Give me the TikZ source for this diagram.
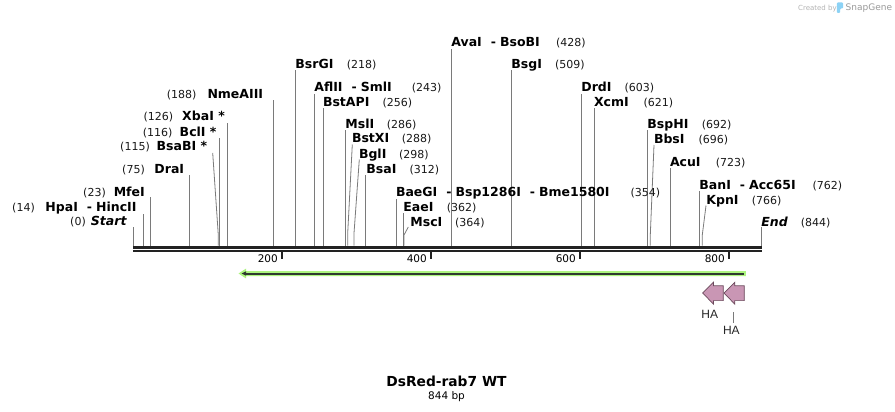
\documentclass[tikz,border=0pt]{standalone}
\usepackage{fontspec}
\setmainfont{DejaVu Sans}
\newfontfamily\hafont{Liberation Sans}
\definecolor{cutgray}{HTML}{7A7A7A}
\definecolor{orfgreen}{HTML}{ADF57F}
\definecolor{orfdark}{HTML}{2F3A2F}
\definecolor{hapink}{HTML}{C996B4}
\definecolor{haedge}{HTML}{6B4A5C}
\definecolor{barblack}{HTML}{222222}
\definecolor{wmgray}{HTML}{B4B4B4}
\definecolor{wmdark}{HTML}{9A9A9A}
\definecolor{snapblue}{HTML}{8CD2F5}
\newcommand\dsh{\hspace{9pt}-\hspace{4pt}}
% right-side label: id, text, x, baseline, number, number x
\newcommand\rlab[6]{%
  \node[lab, anchor=base west] (#1) at (#3,#4) {#2};
  \node[num, anchor=base west] (#1n) at (#6,#4) {#5};}
% left-side label: id, text, right x, baseline, number, number right x
\newcommand\llab[6]{%
  \node[lab, anchor=base east] (#1) at (#3,#4) {#2};
  \node[num, anchor=base east] (#1n) at (#6,#4) {#5};}
% straight cut line: id, x, top
\newcommand\cutv[3]{%
  \coordinate (s#1) at (#2,245.5);
  \coordinate (t#1) at (#2,#3);
  \draw[cut] (s#1) -- (t#1);}
% bent cut line: id, x, bend y, top x, top y
\newcommand\cutb[5]{%
  \coordinate (s#1) at (#2,245.5);
  \coordinate (b#1) at (#2,#3);
  \coordinate (t#1) at (#4,#5);
  \draw[cut] (s#1) -- (b#1) -- (t#1);}
\begin{document}
\begin{tikzpicture}[x=1pt,y=-1pt,
  lab/.style={font=\fontsize{12.5}{14}\selectfont\bfseries, inner sep=0pt},
  num/.style={font=\fontsize{11}{13}\selectfont, inner sep=0pt, text=black!90},
  cut/.style={draw=cutgray, line width=0.8pt},
  tickl/.style={font=\fontsize{10.5}{12}\selectfont, inner sep=0pt, anchor=base east},
  halab/.style={font=\hafont\fontsize{12}{14}\selectfont, inner sep=0pt, anchor=base west, text=black!85},
  haarrow/.style={fill=hapink, draw=haedge, line width=0.7pt, line join=miter}]
\useasboundingbox (0,0) rectangle (895,412);
\fill[white] (0,0) rectangle (895,412);

% watermark
\node[font=\fontsize{7}{8}\selectfont, text=wmgray, inner sep=0pt, anchor=base west] (wm1) at (798,10.5) {Created by};
\fill[snapblue, rounded corners=1pt] (836.8,2.5) -- (843,2.5) -- (843,8.5) -- (840.2,8.5) -- (840.2,13) -- (836.8,13) -- cycle;
\node[font=\fontsize{9}{10}\selectfont, text=wmdark, inner sep=0pt, anchor=base west] (wm2) at (845.5,11) {SnapGene};

% cut lines
\cutv{Start}{133.3}{227}
\cutv{HpaI}{143.3}{213.5}
\cutv{MfeI}{150.7}{197.3}
\cutv{DraI}{189.7}{175}
\cutb{BsaBI}{218.3}{235}{212.7}{153}
\cutv{BclI}{219.3}{138.3}
\cutv{XbaI}{227.7}{122.7}
\cutv{NmeAIII}{273.3}{100}
\cutv{BsrGI}{295.7}{70}
\cutv{AvaI}{451.7}{49}
\cutv{AflII}{314.7}{94}
\cutv{BstAPI}{323.3}{108.3}
\cutv{BsgI}{511.7}{70}
\cutv{DrdI}{581.7}{94}
\cutv{XcmI}{594.3}{108.3}
\cutv{MslI}{345.7}{130}
\cutb{BstXI}{347.7}{233.3}{352.3}{144.5}
\cutb{BglI}{354}{233.3}{359.3}{159.5}
\cutv{BsaI}{365.7}{174.5}
\cutv{BaeGI}{396.3}{199}
\cutv{EaeI}{403}{213}
\cutb{MscI}{404}{235}{408.3}{227}
\cutv{BspHI}{647.7}{130}
\cutb{BbsI}{650.3}{235}{654}{145}
\cutv{AcuI}{670.3}{168}
\cutv{BanI}{699.7}{190.7}
\cutb{KpnI}{702.3}{235}{706}{205.5}
\cutv{End}{761.7}{227}

% left labels
\llab{lNmeAIII}{NmeAIII}{263.3}{98.3}{(188)}{196.7}
\llab{lXbaI}{XbaI *}{225}{120.7}{(126)}{173.3}
\llab{lBclI}{BclI *}{216.7}{136}{(116)}{172.7}
\llab{lBsaBI}{BsaBI *}{207.3}{150.7}{(115)}{150}
\llab{lDraI}{DraI}{184.3}{173.3}{(75)}{145}
\llab{lMfeI}{MfeI}{145}{196}{(23)}{106}
\llab{lHpaI}{HpaI\dsh HincII}{136.7}{211.7}{(14)}{35}
\llab{lStart}{\itshape Start}{126.7}{225.7}{(0)}{86}

% right labels
\rlab{lBsrGI}{BsrGI}{295.2}{68.3}{(218)}{346.7}
\rlab{lAvaI}{AvaI\dsh BsoBI}{451.2}{46.7}{(428)}{556}
\rlab{lAflII}{AflII\dsh SmlI}{314.2}{91.7}{(243)}{411.7}
\rlab{lBstAPI}{BstAPI}{322.8}{106.7}{(256)}{382.3}
\rlab{lBsgI}{BsgI}{511.2}{68.3}{(509)}{555}
\rlab{lDrdI}{DrdI}{581.2}{91.5}{(603)}{624.3}
\rlab{lXcmI}{XcmI}{593.8}{106.7}{(621)}{643.3}
\rlab{lMslI}{MslI}{345.2}{128.3}{(286)}{386.7}
\rlab{lBstXI}{BstXI}{351.8}{142.9}{(288)}{401.7}
\rlab{lBglI}{BglI}{358.8}{158.3}{(298)}{399}
\rlab{lBsaI}{BsaI}{366.2}{173.3}{(312)}{409.3}
\rlab{lBaeGI}{BaeGI\dsh Bsp1286I\dsh Bme1580I}{395.8}{196.7}{(354)}{630.3}
\rlab{lEaeI}{EaeI}{403.2}{211.7}{(362)}{446.7}
\rlab{lMscI}{MscI}{410.2}{226}{(364)}{455}
\rlab{lBspHI}{BspHI}{647.2}{128.3}{(692)}{701.7}
\rlab{lBbsI}{BbsI}{653.8}{143.3}{(696)}{698.3}
\rlab{lAcuI}{AcuI}{669.8}{166.7}{(723)}{715.7}
\rlab{lBanI}{BanI\dsh Acc65I}{699.2}{189}{(762)}{812.3}
\rlab{lKpnI}{KpnI}{706.2}{204.3}{(766)}{751.7}
\rlab{lEnd}{\itshape End}{761.2}{226.5}{(844)}{800.7}

% sequence bar
\fill[barblack] (133,246) rectangle (762,249);
\fill[barblack] (133,250) rectangle (762,252.4);

% ticks
\foreach \p/\x in {200/281.5,400/430.5,600/579.5,800/728.5}{
  \coordinate (tk\p a) at (\x,252);
  \coordinate (tk\p b) at (\x,259.3);
  \draw[barblack, line width=2pt] (tk\p a) -- (tk\p b);
  \node[tickl] (tkl\p) at (\x-3.5,262) {\p};
}

% ORF arrow (reverse)
\fill[orfgreen] (238.5,273.5) -- (246,268.6) -- (246,271) -- (745.8,271) -- (745.8,276) -- (246,276) -- (246,278.4) -- cycle;
\coordinate (orfR) at (743.8,273.5);
\coordinate (orfL) at (244.5,273.5);
\draw[orfdark, line width=2pt] (orfR) -- (orfL);
\fill[orfdark] (241.5,273.5) -- (246,271.3) -- (246,275.7) -- cycle;

% HA features
\draw[haarrow] (702.7,293) -- (713.5,282.2) -- (713.5,285.8) -- (723.3,285.8) -- (723.3,300.6) -- (713.5,300.6) -- (713.5,304.2) -- cycle;
\draw[haarrow] (724,293) -- (734.8,282.2) -- (734.8,285.8) -- (744.3,285.8) -- (744.3,300.6) -- (734.8,300.6) -- (734.8,304.2) -- cycle;
\node[halab] (ha1) at (701.2,318.3) {HA};
\node[halab] (ha2) at (722.8,334.3) {HA};
\coordinate (hal1) at (733.3,312.3);
\coordinate (hal2) at (733.3,322.7);
\draw[cutgray, line width=0.7pt] (hal1) -- (hal2);

% title
\node[font=\fontsize{13.8}{16}\selectfont\bfseries, inner sep=0pt, anchor=base] (title) at (446.5,386) {DsRed-rab7 WT};
\node[font=\fontsize{10.5}{12}\selectfont, inner sep=0pt, anchor=base] (bp) at (446.5,399.3) {844 bp};
\end{tikzpicture}
\end{document}
